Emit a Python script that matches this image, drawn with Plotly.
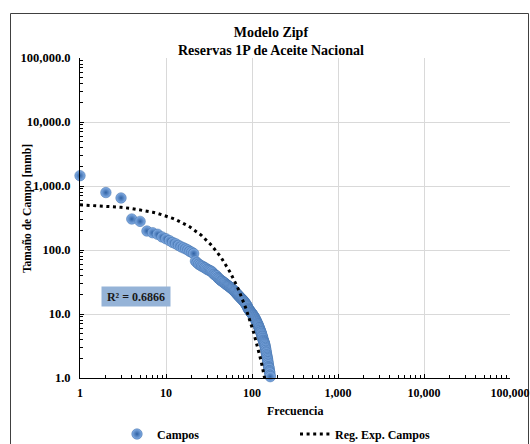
import numpy as np
import plotly.graph_objects as go

# Field rank (frequency) and 1P oil reserves per field [mmb]
rank = list(range(1, 164))
reserves = [
    1450, 790, 650, 305, 280, 198, 186, 176, 160, 150,
    140, 131, 125, 118, 112, 108, 104, 100, 95, 92,
    88, 67, 63, 60, 58, 56, 55, 53, 52, 50,
    49, 48, 47, 46, 44, 42, 41, 40, 39, 37,
    36, 35, 34, 33, 32.5, 32, 31, 30.5, 30, 29,
    28.5, 28, 27.5, 27, 26.5, 26, 25.5, 25, 24.5, 24,
    23.5, 23, 22.5, 22, 21.5, 21, 20.5, 20, 19.8, 19.3,
    18.9, 18.5, 18.1, 17.8, 17.5, 17.2, 16.9, 16.6, 16.3, 16.0,
    15.7, 15.3, 15.0, 14.6, 14.3, 14.0, 13.6, 13.2, 12.8, 12.3,
    12.0, 11.7, 11.5, 11.3, 11.1, 10.9, 10.7, 10.5, 10.3, 10.1,
    9.9, 9.7, 9.6, 9.4, 9.2, 9.0, 8.8, 8.6, 8.4, 8.2,
    8.0, 7.8, 7.6, 7.4, 7.2, 7.0, 6.9, 6.7, 6.5, 6.3,
    6.1, 6.0, 5.8, 5.6, 5.5, 5.3, 5.2, 5.0, 4.9, 4.7,
    4.5, 4.4, 4.2, 4.1, 3.9, 3.8, 3.7, 3.6, 3.5, 3.4,
    3.3, 3.15, 3.0, 2.85, 2.7, 2.55, 2.45, 2.3, 2.2, 2.1,
    2.0, 1.9, 1.8, 1.7, 1.6, 1.5, 1.45, 1.4, 1.3, 1.25,
    1.2, 1.1, 1.05,
]

x_ticks = [1, 10, 100, 1000, 10000, 100000]
y_ticks = [1, 10, 100, 1000, 10000, 100000]

# Exponential trendline y = a * exp(b * x) and its fit quality
trend_a = 531.0
trend_b = -0.0444
r2_text = "R² = 0.6866"

trend_x = np.arange(1, 170)
trend_y = trend_a * np.exp(trend_b * trend_x)

SERIF = "Liberation Serif"

# plot area in pixels: x 80..510, y 58..378
L, R, T, B = 80, 20, 58, 66
W, H = 530, 444
PW, PH = W - L - R, H - T - B


def px(xp):
    return (xp - L) / PW


def py(yp):
    return (H - B - yp) / PH


fig = go.Figure()

fig.add_trace(go.Scatter(
    x=rank, y=reserves, mode="markers", name="Campos",
    cliponaxis=False,
    marker=dict(size=10.5, color="#86b0e6",
                gradient=dict(type="radial", color="#2f61a3"),
                line=dict(width=0.5, color="#3a6aa6")),
))

fig.add_trace(go.Scatter(
    x=trend_x, y=trend_y, mode="lines", name="Reg. Exp. Campos",
    line=dict(color="black", width=3, dash="3px,3.6px"),
))

axis_common = dict(
    type="log", showline=True, linecolor="black", linewidth=1,
    showgrid=True, gridcolor="#d9d9d9", gridwidth=1,
    ticks="inside", ticklen=4, tickcolor="black",
    minor=dict(dtick="D1", ticks="inside", ticklen=3, tickcolor="black",
               showgrid=False),
    zeroline=False, mirror=False,
)

fig.update_xaxes(range=[0, 5], tickvals=x_ticks, tickformat=",d",
                 ticklabelstandoff=4,
                 tickfont=dict(family=SERIF, size=12, color="black",
                               weight="bold"),
                 **axis_common)
fig.update_yaxes(range=[0, 5], tickvals=y_ticks, tickformat=",.1f",
                 ticklabelstandoff=6,
                 tickfont=dict(family=SERIF, size=12.5, color="black",
                               weight="bold"),
                 **axis_common)

annotations = [
    dict(text="<b>Modelo Zipf</b><br><b>Reservas 1P de Aceite Nacional</b>",
         x=px(271), y=py(42), xref="paper", yref="paper",
         showarrow=False, font=dict(family=SERIF, size=14, color="black"),
         xanchor="center", yanchor="middle"),
    dict(text="<b>Frecuencia</b>", x=px(295), y=py(411), xref="paper",
         yref="paper", showarrow=False, xanchor="center", yanchor="middle",
         font=dict(family=SERIF, size=12, color="black")),
    dict(text="<b>Tamaño de Campo [mmb]</b>", x=px(27), y=py(209),
         xref="paper", yref="paper", showarrow=False, textangle=-90,
         xanchor="center", yanchor="middle",
         font=dict(family=SERIF, size=11.5, color="black")),
    dict(text="<b>" + r2_text + "</b>", x=px(135.5), y=py(296.5),
         xref="paper", yref="paper", showarrow=False,
         xanchor="center", yanchor="middle", bgcolor="#95b3d7",
         borderpad=3, width=62, height=13,
         font=dict(family=SERIF, size=12, color="#1a1a1a")),
]

shapes = [
    dict(type="rect", xref="paper", yref="paper",
         x0=px(10.5), x1=px(528.5), y0=py(446), y1=py(13.5),
         line=dict(color="#404040", width=1), fillcolor="rgba(0,0,0,0)",
         layer="below"),
]

fig.update_layout(
    width=W, height=H,
    margin=dict(l=L, r=R, t=T, b=B, autoexpand=False),
    paper_bgcolor="white", plot_bgcolor="white",
    showlegend=True,
    legend=dict(orientation="h", x=px(117), y=py(434), xanchor="left",
                yanchor="middle", entrywidth=133, entrywidthmode="pixels",
                font=dict(family=SERIF, size=12, color="black", weight="bold"),
                bgcolor="rgba(0,0,0,0)", itemwidth=30),
    annotations=annotations,
    shapes=shapes,
)

fig.write_html("out.html")
